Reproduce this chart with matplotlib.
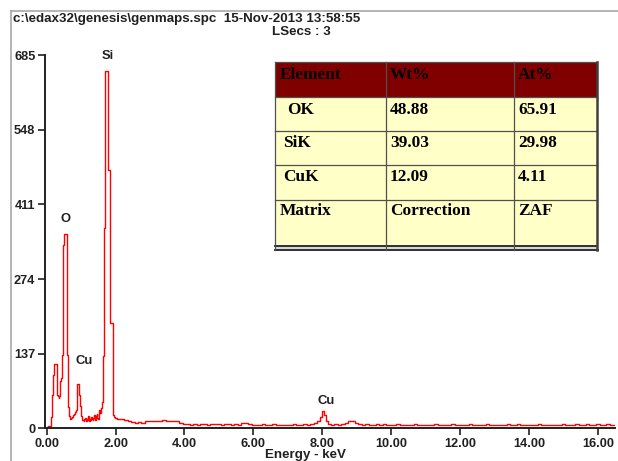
import numpy as np
import matplotlib
matplotlib.use("Agg")
import matplotlib.pyplot as plt
from matplotlib.patches import Rectangle

# ---------------- data ----------------
energy_low = [0.00, 0.06, 0.12, 0.15, 0.18, 0.21, 0.24, 0.27, 0.30, 0.32, 0.34, 0.36, 0.38,
              0.40, 0.42, 0.44, 0.47, 0.50, 0.53, 0.56, 0.59, 0.62, 0.64, 0.66, 0.68, 0.70,
              0.72, 0.74, 0.76, 0.78, 0.80, 0.82, 0.84, 0.86, 0.88, 0.90, 0.92, 0.94, 0.96,
              0.98, 1.00, 1.02, 1.04, 1.06, 1.08, 1.10, 1.12, 1.14, 1.16, 1.18, 1.20, 1.22,
              1.24, 1.26, 1.28, 1.30, 1.32, 1.34, 1.36, 1.38, 1.40, 1.42, 1.44, 1.46, 1.48,
              1.50, 1.52, 1.54, 1.56, 1.58, 1.60, 1.63, 1.66, 1.69, 1.72, 1.75, 1.78, 1.81,
              1.84, 1.87, 1.90, 1.93, 1.96]
counts_low = [2, 3, 4, 20, 61, 98, 117, 118, 116, 61, 58, 56, 58,
              86, 92, 98, 135, 337, 357, 357, 135, 60, 38, 22, 16, 17,
              19, 20, 22, 24, 26, 28, 30, 33, 60, 80, 81, 79, 61,
              40, 22, 17, 14, 15, 13, 16, 18, 14, 13, 16, 15, 22,
              13, 16, 14, 20, 16, 14, 18, 24, 16, 15, 22, 26, 18,
              17, 30, 33, 28, 33, 36, 48, 132, 368, 657, 657, 475, 475,
              194, 194, 194, 24, 20]

energy_bg = [2.0, 2.1, 2.2, 2.3, 2.4, 2.5, 2.6, 2.7, 2.8, 2.9,
             3.0, 3.1, 3.2, 3.3, 3.4, 3.5, 3.6, 3.7, 3.8, 3.9,
             4.0, 4.1, 4.2, 4.3, 4.4, 4.5, 4.6, 4.7, 4.8, 4.9,
             5.0, 5.1, 5.2, 5.3, 5.4, 5.5, 5.6, 5.7, 5.8, 5.9,
             6.0, 6.1, 6.2, 6.3, 6.4, 6.5, 6.6, 6.7, 6.8, 6.9,
             7.0, 7.1, 7.2, 7.3, 7.4, 7.5, 7.6, 7.7, 7.8, 7.9,
             7.96, 8.02, 8.08, 8.14, 8.2, 8.3, 8.4, 8.5, 8.6, 8.7, 8.8, 8.9,
             9.0, 9.1, 9.2, 9.3, 9.4, 9.5, 9.6, 9.7, 9.8, 9.9,
             10.0, 10.1, 10.2, 10.3, 10.4, 10.5, 10.6, 10.7, 10.8, 10.9,
             11.0, 11.1, 11.2, 11.3, 11.4, 11.5, 11.6, 11.7, 11.8, 11.9,
             12.0, 12.1, 12.2, 12.3, 12.4, 12.5, 12.6, 12.7, 12.8, 12.9,
             13.0, 13.1, 13.2, 13.3, 13.4, 13.5, 13.6, 13.7, 13.8, 13.9,
             14.0, 14.1, 14.2, 14.3, 14.4, 14.5, 14.6, 14.7, 14.8, 14.9,
             15.0, 15.1, 15.2, 15.3, 15.4, 15.5, 15.6, 15.7, 15.8, 15.9,
             16.0, 16.1, 16.2, 16.3, 16.4, 16.5]
counts_bg = [18, 17, 16, 14, 12, 11, 10, 11, 10, 12,
             13, 12, 13, 12, 14, 13, 12, 13, 12, 10,
             8, 7, 6, 7, 6, 7, 8, 6, 7, 8,
             7, 6, 7, 8, 6, 7, 6, 9, 10, 7,
             6, 5, 6, 7, 5, 6, 7, 5, 6, 5,
             6, 5, 7, 5, 6, 8, 6, 7, 9, 12,
             20, 31, 24, 12, 7, 6, 7, 6, 8, 10, 12, 12,
             9, 7, 6, 7, 6, 5, 7, 6, 8, 6,
             5, 6, 7, 5, 6, 5, 6, 7, 5, 6,
             5, 6, 5, 7, 5, 6, 5, 6, 8, 6,
             5, 6, 5, 7, 6, 5, 6, 5, 7, 5,
             6, 5, 6, 5, 7, 5, 6, 8, 6, 5,
             6, 5, 6, 7, 5, 6, 5, 6, 5, 6,
             7, 5, 6, 5, 8, 6, 5, 7, 6, 5,
             8, 6, 5, 7, 6, 5]

energy = np.array(energy_low + energy_bg)
counts = np.array(counts_low + counts_bg)

x_ticks = [0, 2, 4, 6, 8, 10, 12, 14, 16]
x_tick_labels = ["0.00", "2.00", "4.00", "6.00", "8.00", "10.00", "12.00", "14.00", "16.00"]
y_ticks = [0, 137, 274, 411, 548, 685]

peak_labels = ["Si", "O", "Cu", "Cu"]

table_header = ["Element", "Wt%", "At%"]
table_rows = [["OK", "48.88", "65.91"],
              ["SiK", "39.03", "29.98"],
              ["CuK", "12.09", "4.11"],
              ["Matrix", "Correction", "ZAF"]]

title_text = "c:\\edax32\\genesis\\genmaps.spc  15-Nov-2013 13:58:55"
lsecs_text = "LSecs : 3"

# ---------------- figure ----------------
W, H = 618, 461
fig = plt.figure(figsize=(W / 100, H / 100), dpi=100)
fig.patch.set_facecolor("white")

def fx(px):
    return px / W

def fy(py):
    return 1 - py / H

ax = fig.add_axes([fx(45), fy(428), fx(615) - fx(45), fy(55.5) - fy(428)])
ax.plot(energy, counts, color="#ff0000", lw=1.0, drawstyle="steps-mid")
ax.set_xlim(-0.05, 16.5)
ax.set_ylim(0, 685)
for s in ["top", "right"]:
    ax.spines[s].set_visible(False)
for s in ["left", "bottom"]:
    ax.spines[s].set_linewidth(1.4)
    ax.spines[s].set_color("#202020")
ax.set_xticks(x_ticks)
ax.set_xticklabels(x_tick_labels)
ax.set_yticks(y_ticks)
ax.set_yticklabels([str(v) for v in y_ticks])
ax.tick_params(direction="out", length=5, width=1.2, color="#202020", pad=2)
for lab in ax.get_xticklabels() + ax.get_yticklabels():
    lab.set_fontfamily("Liberation Sans")
    lab.set_fontweight("bold")
    lab.set_fontsize(9.2)
    lab.set_color("#202020")

# overlay in pixel coordinates
ov = fig.add_axes([0, 0, 1, 1], zorder=5)
ov.set_xlim(0, W)
ov.set_ylim(H, 0)
ov.axis("off")
ov.patch.set_alpha(0)

# frame lines
ov.plot([11, 11], [11, H], color="#a8a8a8", lw=1.2)
ov.plot([11, W], [11, 11], color="#a8a8a8", lw=1.2)

sans = dict(family="Liberation Sans", weight="bold", color="#202020")
ov.text(13, 19, title_text, fontsize=9.6, ha="left", va="center", **sans)
ov.text(331, 32, lsecs_text, fontsize=9.6, ha="right", va="center", **sans)
ov.text(305, 455, "Energy - keV", fontsize=9.6, ha="center", va="center", **sans)

label_pos = [(108, 56), (65.5, 219), (84, 361), (326, 401)]
for lab, (px, py) in zip(peak_labels, label_pos):
    ov.text(px, py, lab, fontsize=9.4, ha="center", va="center", **sans)

# table
col_x = [275, 386, 514, 597]
row_y = [62.5, 97, 131, 165.5, 200, 245]
ov.add_patch(Rectangle((col_x[0], row_y[0]), col_x[-1] - col_x[0], row_y[1] - row_y[0],
                       facecolor="#800000", edgecolor="none", zorder=1))
ov.add_patch(Rectangle((col_x[0], row_y[1]), col_x[-1] - col_x[0], row_y[-1] - row_y[1],
                       facecolor="#ffffc8", edgecolor="none", zorder=1))
lc = "#505050"
for yy in row_y[:-1]:
    ov.plot([col_x[0], col_x[-1]], [yy, yy], color=lc, lw=0.9, zorder=2)
ov.plot([col_x[0], col_x[-1]], [245.5, 245.5], color="#303030", lw=1.4, zorder=2)
ov.plot([col_x[0], col_x[-1] + 1], [249.5, 249.5], color="#303030", lw=1.4, zorder=2)
ov.add_patch(Rectangle((col_x[0], 246.3), col_x[-1] - col_x[0], 2.4,
                       facecolor="#d8d8d8", edgecolor="none", zorder=1))
for xx in col_x[:-1]:
    ov.plot([xx, xx], [row_y[0], 250], color=lc, lw=0.9, zorder=2)
ov.plot([col_x[-1], col_x[-1]], [row_y[0], 250], color="#404040", lw=1.8, zorder=2)

serif = dict(family="Liberation Serif", weight="bold", color="black")
text_x = [280, 390, 518]
ov_fs = 12.4
for j, t in enumerate(table_header):
    ov.text(text_x[j], 75, t, fontsize=ov_fs, ha="left", va="center", zorder=3, **serif)
row_text_y = [109.5, 143, 177, 211]
row_first_x = [287, 283.5, 283.5, 280]
for i, row in enumerate(table_rows):
    for j, t in enumerate(row):
        x0 = row_first_x[i] if j == 0 else text_x[j]
        ov.text(x0, row_text_y[i], t, fontsize=ov_fs,
                ha="left", va="center", zorder=3, **serif)

fig.savefig("out.png", dpi=100)
